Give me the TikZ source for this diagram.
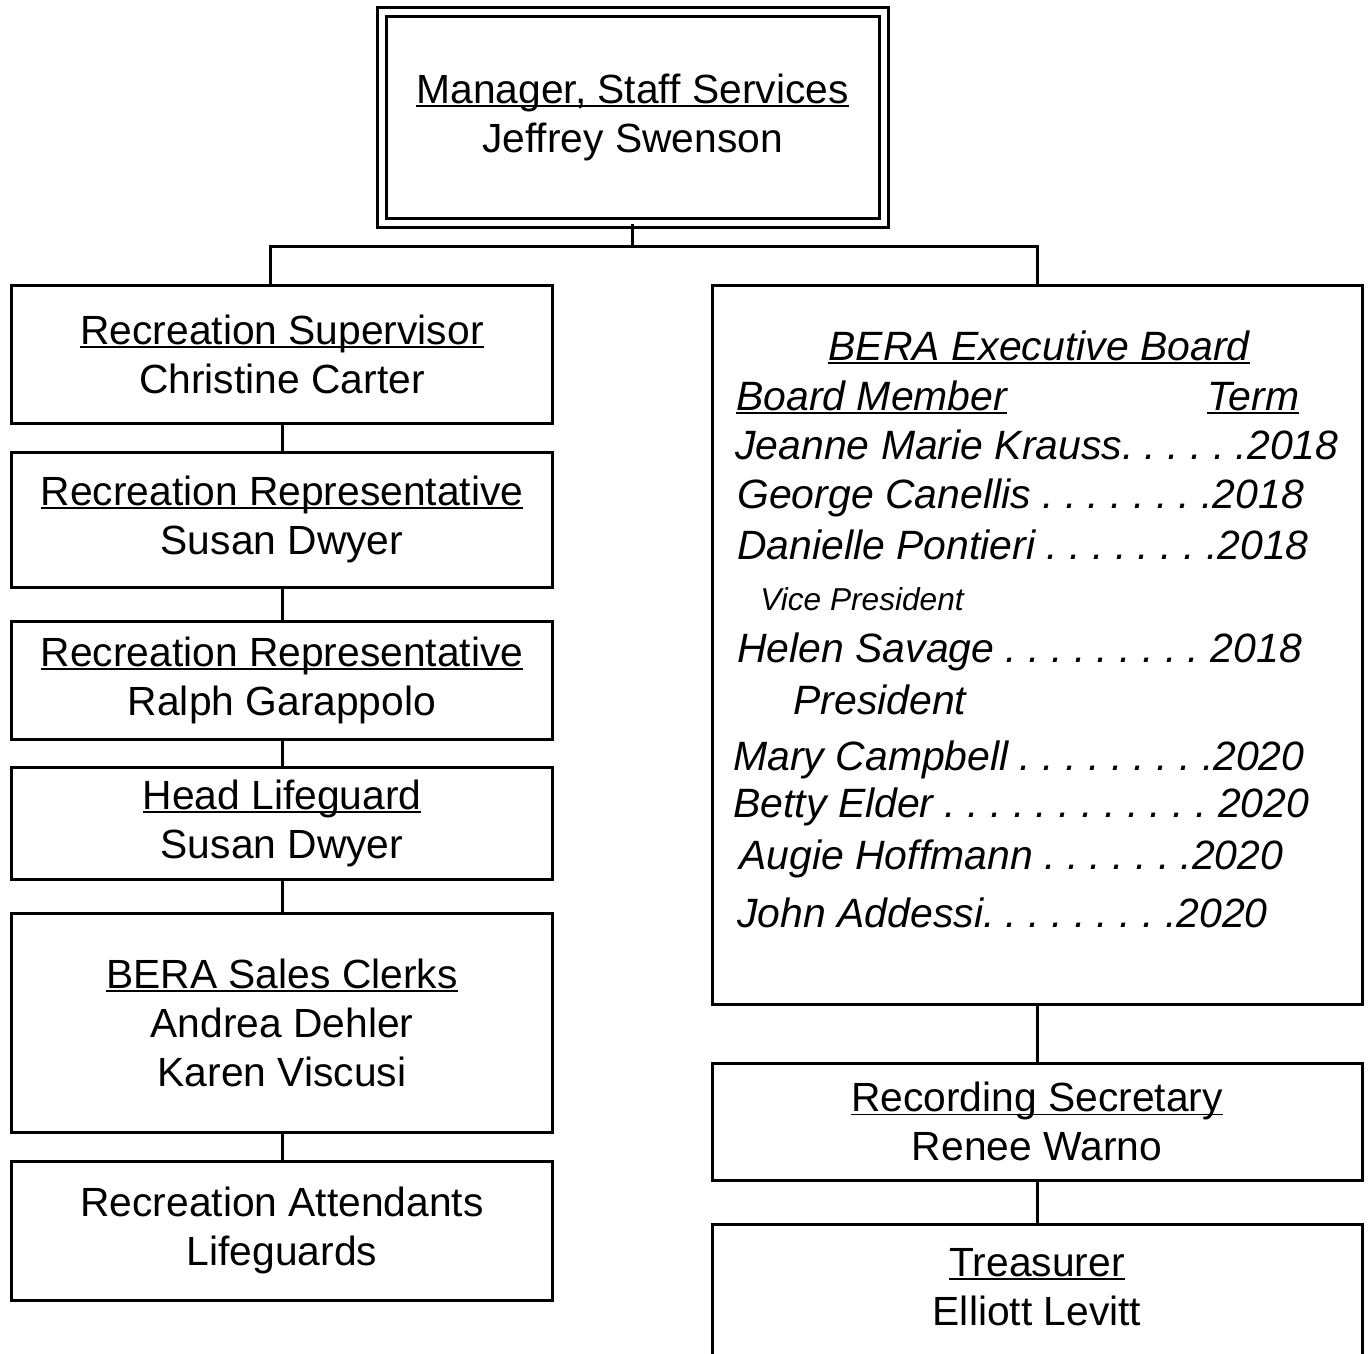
\documentclass[tikz,border=0pt]{standalone}
\usepackage{fontspec}
\setmainfont{Liberation Sans}
\frenchspacing

\newsavebox{\ulbox}
\newcommand{\uln}[1]{\sbox{\ulbox}{#1}\rlap{\rule[-2.2pt]{\wd\ulbox}{1.1pt}}\usebox{\ulbox}}

\tikzset{
    box/.style={draw, line width=0.6mm, minimum width=108mm, inner sep=0pt,
        align=center, font=\fontsize{23.2}{27.9}\selectfont},
    widebox/.style={box, minimum width=130mm},
    txt/.style={inner sep=0pt, align=center, font=\fontsize{23.2}{27.9}\selectfont},
    member/.style={anchor=base west, inner sep=0pt,
        font=\fontsize{23.3}{28}\selectfont\itshape},
    conn/.style={line width=0.6mm}
}

\begin{document}
\begin{tikzpicture}[x=0.2mm, y=-0.2mm]
    \useasboundingbox (0,0) rectangle (1372,1353);
    \clip (0,0) rectangle (1372,1353);

    % Manager
    \node[box, double, double distance=1.2mm, minimum width=100.4mm,
        minimum height=42mm] (mgr) at (632.5,117.5)
        {\uln{Manager, Staff Services}\\Jeffrey Swenson};

    % Left column
    \node[box, minimum height=27.4mm] (sup) at (282,354.5)
        {\uln{Recreation Supervisor}\\Christine Carter};
    \node[box, minimum height=27mm] (rep1) at (282,519.5)
        {\uln{Recreation Representative}\\Susan Dwyer};
    \node[box, minimum height=23.6mm] (rep2) at (282,680)
        {\uln{Recreation Representative}\\Ralph Garappolo};
    \node[box, minimum height=22.4mm] (head) at (282,823)
        {\uln{Head Lifeguard}\\Susan Dwyer};
    \node[box, minimum height=43.8mm] (clerks) at (282,1022.5)
        {\uln{BERA Sales Clerks}\\Andrea Dehler\\Karen Viscusi};
    \node[box, minimum height=27.8mm] (attend) at (282,1230.5)
        {Recreation Attendants\\Lifeguards};

    % Right column
    \node[widebox, minimum height=143.6mm] (board) at (1037,645) {};
    \node[widebox, minimum height=23.4mm] (sec) at (1037,1121.5)
        {\uln{Recording Secretary}\\Renee Warno};
    \node[widebox, minimum height=50mm, anchor=north] (treas) at (1037,1223) {};
    \node[txt] (treastxt) at (1037,1287) {\uln{Treasurer}\\Elliott Levitt};

    % Board list
    \node[member, anchor=base] (bhead) at (1039,360) {\uln{BERA Executive Board}};
    \node[member] (bcol) at (736,410) {\uln{Board Member}};
    \node[member] (tcol) at (1207,410) {\uln{Term}};
    \foreach \i/\x/\y/\txt in {
        1/735/459/{Jeanne Marie Krauss. . . . . .2018},
        2/737/508/{George Canellis . . . . . . . .2018},
        3/737/559/{Danielle Pontieri . . . . . . . .2018},
        4/737/662/{Helen Savage . . . . . . . . . 2018},
        5/733/770/{Mary Campbell . . . . . . . . .2020},
        6/733/817/{Betty Elder . . . . . . . . . . . . 2020},
        7/739/869/{Augie Hoffmann . . . . . . .2020},
        8/737/927/{John Addessi. . . . . . . . .2020}
    }{
        \node[member] (m\i) at (\x,\y) {\txt};
    }
    \node[member, font=\fontsize{18}{22}\selectfont\itshape] (vp) at (760,610) {Vice President};
    \node[member] (pres) at (793,714) {President};

    % Connectors
    \coordinate (busL) at (270,247);
    \coordinate (busR) at (1037,247);
    \draw[conn] (mgr.south) -- (mgr.south |- busL);
    \draw[conn] (sup.north -| busL) -- (busL) -- (busR) -- (board.north);
    \foreach \a/\b in {sup/rep1, rep1/rep2, rep2/head, head/clerks, clerks/attend, board/sec, sec/treas}{
        \draw[conn] (\a.south) -- (\b.north);
    }
\end{tikzpicture}
\end{document}
